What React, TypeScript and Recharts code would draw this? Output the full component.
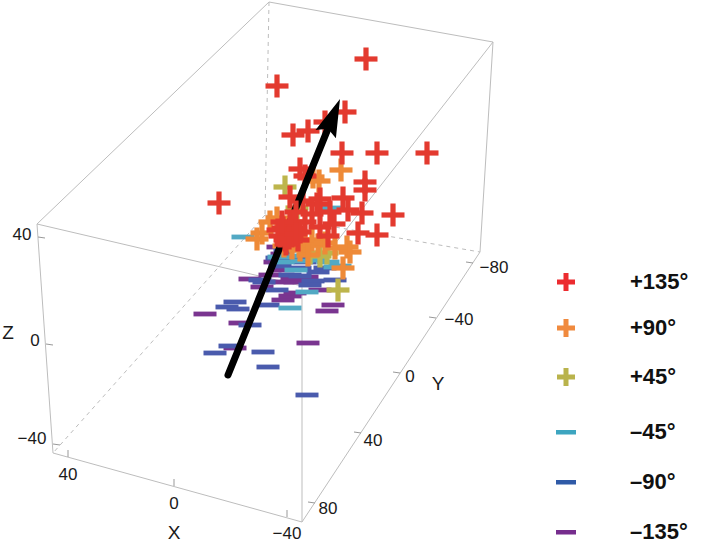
import React from "react";
import { ScatterChart, Scatter, XAxis, YAxis } from "recharts";

// Points are given in the projected plane of the 3D view (x right, y down),
// read off the figure. One array per stimulus direction; the +135° points are
// split in the outer ones and the dense core that sits in front of the arrow.
const plus135: [number, number][] = [
  [366, 59], [277, 86], [345, 112], [325, 122], [308, 131], [293, 135],
  [342, 153], [377, 153], [427, 153], [300, 169], [305, 176], [365, 182],
  [365, 190], [219, 203], [320, 199], [343, 198], [290, 197], [317, 204],
  [303, 201], [362, 213], [393, 215], [358, 233], [377, 235], [320, 227],
  [328, 236], [334, 224], [312, 214], [330, 212], [348, 210],
];
const plus135Core: [number, number][] = [
  [296, 212], [305, 222], [283, 228], [288, 232], [292, 236], [285, 240],
  [295, 228], [280, 236], [290, 224], [298, 240], [286, 244], [278, 230],
  [294, 222], [300, 232], [282, 222], [289, 238], [296, 234],
];
const plus90: [number, number][] = [
  [341, 170], [313, 177], [319, 181], [270, 222], [262, 233], [257, 239],
  [277, 218], [347, 247], [343, 268], [335, 248], [350, 252], [305, 245],
  [312, 240], [300, 250], [318, 245], [292, 248], [325, 243], [308, 255],
  [284, 246],
];
const plus45: [number, number][] = [
  [285, 187], [297, 208], [327, 253], [338, 290], [310, 253], [320, 256],
  [302, 244],
];
const minus45: [number, number][] = [
  [243, 237], [333, 208], [340, 266], [335, 267], [317, 260], [290, 308],
  [307, 292], [283, 262], [296, 270], [328, 262], [286, 256], [302, 261],
  [279, 257],
];
const minus90: [number, number][] = [
  [260, 280], [313, 281], [235, 302], [227, 307], [238, 309], [250, 325],
  [268, 305], [277, 290], [230, 346], [215, 353], [263, 352], [268, 367],
  [307, 395], [280, 266], [277, 258], [287, 260], [300, 268], [290, 275],
  [310, 285], [295, 258], [285, 250], [305, 262], [325, 268], [335, 280],
  [300, 276], [264, 282], [318, 272],
];
const minus135: [number, number][] = [
  [250, 279], [283, 282], [307, 277], [205, 314], [240, 323], [283, 300],
  [290, 296], [295, 293], [262, 287], [333, 305], [327, 311], [308, 343],
  [235, 348], [283, 270], [275, 262], [295, 282], [320, 290], [292, 278],
  [270, 275], [282, 254], [278, 247],
];

// mean direction vector (tail -> tip)
const meanArrow: [number, number][] = [[228, 375], [340, 99]];

// box corners in the projected plane
const corner: Record<string, [number, number]> = {
  A: [37, 224], B: [302, 286], C: [493, 42], D: [269, 2],
  E: [53, 453], F: [302, 522], G: [480, 252], H: [265, 215],
};
const solidEdges = ["AB", "BC", "CD", "DA", "AE", "BF", "CG", "EF", "FG"];
const hiddenEdges = ["DH", "HE", "HG"];

const xTickLabels = ["40", "0", "−40"];
const yTickLabels = ["−80", "−40", "0", "40", "80"];
const zTickLabels = ["40", "0", "−40"];
const xTickAt: [number, number][] = [[68, 457], [174, 486], [287, 517]];
const yTickAt: [number, number][] = [[473, 263], [436, 318], [400, 373], [361, 433], [315, 503]];
const zTickAt: [number, number][] = [[38, 237], [46, 344], [53, 444]];
const xLabelAt: [number, number][] = [[68, 474], [174, 503], [287, 533]];
const yLabelAt: [number, number][] = [[494, 267], [459, 319], [410, 376], [373, 440], [328, 508]];
const zLabelAt: [number, number][] = [[22, 234], [35, 340], [32, 438]];
const axisTitles = [
  { x: 174, y: 532, text: "X" },
  { x: 438, y: 383, text: "Y" },
  { x: 8, y: 332, text: "Z" },
];

const legendItems = [
  { label: "+135°", color: "#ec2b2f", kind: "plus" },
  { label: "+90°", color: "#f08a3e", kind: "plus" },
  { label: "+45°", color: "#b9b34c", kind: "plus" },
  { label: "–45°", color: "#3da5c0", kind: "dash" },
  { label: "–90°", color: "#2f5aa7", kind: "dash" },
  { label: "–135°", color: "#762d8d", kind: "dash" },
];
const legendRowY = [282, 328, 377, 432, 482, 532];

const W = 709;
const H = 545;
const FONT = "'Liberation Sans', Arial, sans-serif";
const RED = "#e33a2f";

const pts = (arr: [number, number][]) => arr.map(([x, y]) => ({ x, y }));
const withText = (arr: [number, number][], texts: string[]) =>
  arr.map(([x, y], i) => ({ x, y, text: texts[i] }));

const PlusMark = (props: any) => {
  const { cx, cy, fill } = props;
  const h = 11.5;
  const t = 2.6;
  return (
    <g fill={fill}>
      <rect x={cx - h} y={cy - t} width={2 * h} height={2 * t} />
      <rect x={cx - t} y={cy - h} width={2 * t} height={2 * h} />
    </g>
  );
};

const DashMark = (props: any) => {
  const { cx, cy, fill } = props;
  return <rect x={cx - 11.5} y={cy - 2.4} width={23} height={4.8} fill={fill} />;
};

const Nothing = () => <g />;

const TickText = (size: number) => (props: any) => (
  <text
    x={props.cx}
    y={props.cy}
    textAnchor="middle"
    dominantBaseline="central"
    fontFamily={FONT}
    fontSize={size}
    fill="#1a1a1a"
  >
    {props.payload.text}
  </text>
);

const TickMark = (dx: number, dy: number) => (props: any) => (
  <line
    x1={props.cx}
    y1={props.cy}
    x2={props.cx + dx}
    y2={props.cy + dy}
    stroke="#999"
    strokeWidth={1}
  />
);

const ArrowHead = (props: any) => {
  const [[x0, y0], [x1, y1]] = meanArrow;
  const deg = (Math.atan2(y1 - y0, x1 - x0) * 180) / Math.PI;
  return (
    <polygon
      points="0,0 -38,-11 -32,0 -38,11"
      fill="#000"
      transform={`translate(${props.cx},${props.cy}) rotate(${deg})`}
    />
  );
};

const edgeData = (edge: string) => [
  { x: corner[edge[0]][0], y: corner[edge[0]][1] },
  { x: corner[edge[1]][0], y: corner[edge[1]][1] },
];

function shaftData() {
  const [[x0, y0], [x1, y1]] = meanArrow;
  const len = Math.hypot(x1 - x0, y1 - y0);
  const k = (len - 29) / len;
  return [
    { x: x0, y: y0 },
    { x: x0 + (x1 - x0) * k, y: y0 + (y1 - y0) * k },
  ];
}

function LegendBox() {
  return (
    <div style={{ position: "absolute", left: 0, top: 0, width: W, height: H, pointerEvents: "none" }}>
      {legendItems.map((item, i) => (
        <div
          key={item.label}
          style={{
            position: "absolute",
            left: 555,
            top: legendRowY[i] - 15,
            height: 30,
            display: "flex",
            alignItems: "center",
          }}
        >
          <svg width={22} height={22} style={{ marginRight: 53 }}>
            {item.kind === "plus" ? (
              <g fill={item.color}>
                <rect x={2} y={8.5} width={18} height={5} />
                <rect x={8.5} y={2} width={5} height={18} />
              </g>
            ) : (
              <rect x={1} y={9} width={20} height={4.5} fill={item.color} />
            )}
          </svg>
          <span style={{ fontFamily: FONT, fontWeight: 700, fontSize: 22, color: "#111" }}>
            {item.label}
          </span>
        </div>
      ))}
    </div>
  );
}

export default function App() {
  return (
    <div style={{ position: "relative", width: W, height: H, background: "#fff" }}>
      <style>{`body{margin:0;}`}</style>
      <ScatterChart width={W} height={H} margin={{ top: 0, right: 0, bottom: 0, left: 0 }}>
        <XAxis type="number" dataKey="x" domain={[0, W]} hide allowDataOverflow />
        <YAxis type="number" dataKey="y" domain={[0, H]} reversed hide allowDataOverflow />

        {hiddenEdges.map((e) => (
          <Scatter
            key={e}
            data={edgeData(e)}
            shape={Nothing}
            line={{ stroke: "#bdbdbd", strokeWidth: 1, strokeDasharray: "4 4" }}
            isAnimationActive={false}
          />
        ))}
        {solidEdges.map((e) => (
          <Scatter
            key={e}
            data={edgeData(e)}
            shape={Nothing}
            line={{ stroke: "#bdbdbd", strokeWidth: 1 }}
            isAnimationActive={false}
          />
        ))}

        <Scatter data={pts(xTickAt)} shape={TickMark(0, -7)} isAnimationActive={false} />
        <Scatter data={pts(yTickAt)} shape={TickMark(-7, -1)} isAnimationActive={false} />
        <Scatter data={pts(zTickAt)} shape={TickMark(7, 1)} isAnimationActive={false} />
        <Scatter data={withText(xLabelAt, xTickLabels)} shape={TickText(17)} isAnimationActive={false} />
        <Scatter data={withText(yLabelAt, yTickLabels)} shape={TickText(17)} isAnimationActive={false} />
        <Scatter data={withText(zLabelAt, zTickLabels)} shape={TickText(17)} isAnimationActive={false} />
        <Scatter data={axisTitles} shape={TickText(19)} isAnimationActive={false} />

        <Scatter data={pts(minus135)} fill="#7a3590" shape={DashMark} isAnimationActive={false} />
        <Scatter data={pts(minus90)} fill="#4a5bad" shape={DashMark} isAnimationActive={false} />
        <Scatter data={pts(minus45)} fill="#52a9c4" shape={DashMark} isAnimationActive={false} />

        <Scatter data={pts(plus45)} fill="#bdb54c" shape={PlusMark} isAnimationActive={false} />
        <Scatter data={pts(plus90)} fill="#ee8a38" shape={PlusMark} isAnimationActive={false} />
        <Scatter data={pts(plus135)} fill={RED} shape={PlusMark} isAnimationActive={false} />

        <Scatter
          data={shaftData()}
          shape={Nothing}
          line={{ stroke: "#000", strokeWidth: 7, strokeLinecap: "round" }}
          isAnimationActive={false}
        />
        <Scatter data={pts([meanArrow[1]])} shape={ArrowHead} isAnimationActive={false} />

        <Scatter data={pts(plus135Core)} fill={RED} shape={PlusMark} isAnimationActive={false} />
      </ScatterChart>
      <LegendBox />
    </div>
  );
}
